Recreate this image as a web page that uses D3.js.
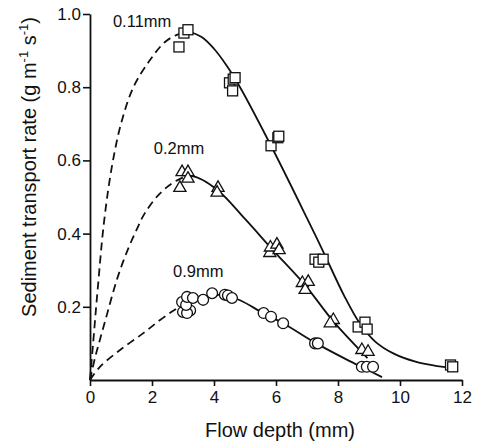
<!DOCTYPE html>
<html>
<head>
<meta charset="utf-8">
<script src="https://cdn.jsdelivr.net/npm/d3@7"></script>
<style>
  html, body { margin: 0; padding: 0; background: #fff; }
  svg { display: block; font-family: "Liberation Sans", Arial, sans-serif; }
</style>
</head>
<body>
<div id="chart"></div>
<script>
// Sediment transport rate vs flow depth for three grain sizes

const W = 478, H = 442;
const xTicks = [0, 2, 4, 6, 8, 10, 12];
const yTicks = [0.2, 0.4, 0.6, 0.8, 1.0];

// measured points [flow depth mm, transport rate]
const squares = [
  [2.87, 0.91], [3.03, 0.948], [3.16, 0.957],
  [4.50, 0.812], [4.62, 0.822], [4.68, 0.826], [4.60, 0.790],
  [5.84, 0.640], [6.06, 0.662], [6.09, 0.666],
  [7.26, 0.330], [7.38, 0.322], [7.52, 0.330],
  [8.65, 0.145], [8.87, 0.158], [8.94, 0.139],
  [11.63, 0.041], [11.70, 0.036]
];
const triangles = [
  [2.97, 0.568], [3.16, 0.568], [3.16, 0.550], [2.90, 0.525],
  [4.13, 0.525], [4.10, 0.512],
  [5.80, 0.347], [5.82, 0.362], [6.03, 0.370], [6.10, 0.355],
  [6.85, 0.265], [7.04, 0.268], [6.94, 0.246],
  [7.85, 0.164], [7.75, 0.155],
  [8.77, 0.082], [8.97, 0.077]
];
const circles = [
  [2.97, 0.213], [3.00, 0.186], [3.23, 0.190], [3.13, 0.183], [3.10, 0.205],
  [3.13, 0.227], [3.32, 0.224], [3.65, 0.219], [3.94, 0.237],
  [4.35, 0.233], [4.45, 0.231], [4.58, 0.224],
  [5.60, 0.183], [5.84, 0.173], [6.23, 0.155],
  [7.26, 0.100], [7.35, 0.100],
  [8.77, 0.036], [8.93, 0.036], [9.13, 0.036]
];

// curves: dashed (extrapolated) left of the split depth, solid (fitted) right of it
const curve011 = [[0, 0], [0.1, 0.1], [0.25, 0.25], [0.45, 0.43], [0.7, 0.58], [1.0, 0.70],
  [1.4, 0.80], [1.9, 0.87], [2.4, 0.922], [2.8, 0.943], [3.2, 0.95], [3.6, 0.937],
  [4.0, 0.905], [4.4, 0.86], [4.84, 0.80], [5.84, 0.640], [7.03, 0.437], [7.5, 0.355],
  [8.2, 0.23], [8.7, 0.155], [9.2, 0.105], [9.8, 0.072], [10.5, 0.05], [11.2, 0.038],
  [11.65, 0.034]];
const curve02 = [[0, 0], [0.16, 0.06], [0.32, 0.11], [0.55, 0.18], [0.87, 0.275],
  [1.19, 0.35], [1.5, 0.41], [1.77, 0.456], [2.26, 0.51], [2.8, 0.545], [3.3, 0.557],
  [4.1, 0.52], [5.0, 0.44], [5.9, 0.355], [6.95, 0.258], [7.85, 0.16], [8.95, 0.06]];
const curve09 = [[0, 0], [0.32, 0.036], [0.97, 0.082], [1.72, 0.128], [2.26, 0.164],
  [2.7, 0.19], [3.0, 0.205], [3.6, 0.226], [4.3, 0.232], [4.84, 0.218], [5.58, 0.183],
  [6.23, 0.155], [7.3, 0.10], [8.3, 0.055], [8.9, 0.03], [9.42, 0.008]];
const curves = [
  { pts: curve011, split: 3.15 },
  { pts: curve02, split: 3.25 },
  { pts: curve09, split: 3.0 }
];

const curveLabels = [
  { text: '0.11mm', x: 0.74, y: 0.965 },
  { text: '0.2mm', x: 2.06, y: 0.617 },
  { text: '0.9mm', x: 2.68, y: 0.281 }
];

const svg = d3.select('#chart').append('svg')
  .attr('width', W)
  .attr('height', H);

const x = d3.scaleLinear().domain([0, 12]).range([90, 462]);
const y = d3.scaleLinear().domain([0, 1]).range([380, 14]);

// axes
const xAxis = svg.append('g')
  .attr('transform', `translate(0,${y(0)})`)
  .call(d3.axisBottom(x).tickValues(xTicks).tickSize(6).tickSizeOuter(0).tickPadding(5)
    .tickFormat(d3.format('d')));
const yAxis = svg.append('g')
  .attr('transform', `translate(${x(0)},0)`)
  .call(d3.axisLeft(y).tickValues(yTicks).tickSize(7).tickSizeOuter(0).tickPadding(2)
    .tickFormat(d3.format('.1f')));

for (const ax of [xAxis, yAxis]) {
  ax.select('.domain').attr('stroke', '#111').attr('stroke-width', 1.8);
  ax.selectAll('.tick line').attr('stroke', '#111').attr('stroke-width', 1.6);
  ax.selectAll('.tick text')
    .attr('fill', '#111')
    .style('font-size', '17px')
    .style('font-family', '"Liberation Sans", Arial, sans-serif');
}

// axis titles
svg.append('text')
  .attr('x', 280).attr('y', 437)
  .attr('text-anchor', 'middle')
  .style('font-size', '20px')
  .attr('fill', '#111')
  .text('Flow depth (mm)');

const yt = svg.append('text')
  .attr('transform', 'translate(36,167) rotate(-90)')
  .attr('text-anchor', 'middle')
  .style('font-size', '20px')
  .attr('fill', '#111');
yt.append('tspan').text('Sediment transport rate (g m');
yt.append('tspan').attr('dy', -8).style('font-size', '13px').text('-1');
yt.append('tspan').attr('dy', 8).text(' s');
yt.append('tspan').attr('dy', -8).style('font-size', '13px').text('-1');
yt.append('tspan').attr('dy', 8).text(')');

// curves
const line = d3.line()
  .x(d => x(d[0]))
  .y(d => y(d[1]))
  .curve(d3.curveCatmullRom.alpha(0.5));

const defs = svg.append('defs');
const g = svg.append('g');
curves.forEach((c, i) => {
  defs.append('clipPath').attr('id', `left${i}`)
    .append('rect').attr('x', 0).attr('y', 0).attr('width', x(c.split)).attr('height', H);
  defs.append('clipPath').attr('id', `right${i}`)
    .append('rect').attr('x', x(c.split)).attr('y', 0).attr('width', W).attr('height', H);
  g.append('path').attr('d', line(c.pts))
    .attr('clip-path', `url(#left${i})`)
    .attr('fill', 'none').attr('stroke', '#111')
    .attr('stroke-width', 1.8).attr('stroke-dasharray', '8,5');
  g.append('path').attr('d', line(c.pts))
    .attr('clip-path', `url(#right${i})`)
    .attr('fill', 'none').attr('stroke', '#111')
    .attr('stroke-width', 1.8);
});

// markers
const pts = svg.append('g')
  .attr('fill', '#fff').attr('stroke', '#111').attr('stroke-width', 1.3);

pts.selectAll('circle').data(circles).join('circle')
  .attr('cx', d => x(d[0])).attr('cy', d => y(d[1])).attr('r', 5.4);

const tri = d3.symbol().type(d3.symbolTriangle).size(64);
pts.selectAll('path.tri').data(triangles).join('path')
  .attr('class', 'tri')
  .attr('d', tri)
  .attr('transform', d => `translate(${x(d[0])},${y(d[1])})`);

pts.selectAll('rect').data(squares).join('rect')
  .attr('x', d => x(d[0]) - 5).attr('y', d => y(d[1]) - 5)
  .attr('width', 10).attr('height', 10);

// curve labels
svg.append('g').selectAll('text').data(curveLabels).join('text')
  .attr('x', d => x(d.x)).attr('y', d => y(d.y))
  .style('font-size', '16.5px')
  .attr('fill', '#111')
  .text(d => d.text);
</script>
</body>
</html>
